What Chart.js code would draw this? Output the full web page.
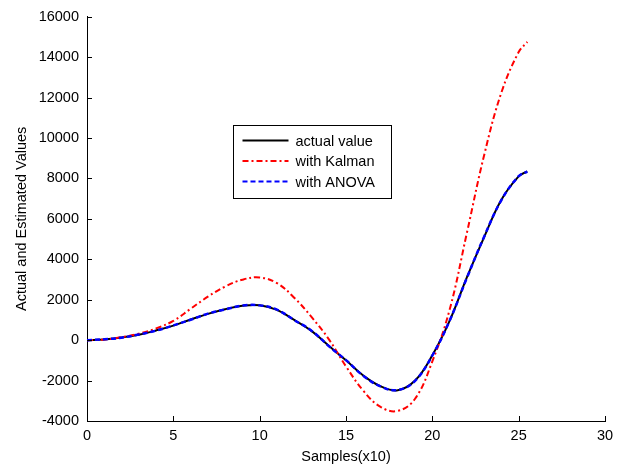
<!DOCTYPE html>
<html>
<head>
<meta charset="utf-8">
<script src="https://cdn.jsdelivr.net/npm/chart.js@4.4.0/dist/chart.umd.min.js"></script>
<style>
  html, body { margin: 0; padding: 0; background: #fff; }
  #wrap { position: relative; width: 623px; height: 468px; }
</style>
</head>
<body>
<div id="wrap"><canvas id="chart" width="623" height="468"></canvas></div>
<script>
// sample index (x10)
const samples = [0, 1, 2, 3, 4, 5, 6, 7, 8, 9, 10, 11, 12, 13, 14, 15, 16, 17, 18, 19, 20, 21, 22, 23, 24, 25, 25.5];
const actualValues = [0, 30, 130, 270, 480, 720, 1020, 1300, 1530, 1700, 1730, 1500, 1000, 460, -280, -1000, -1750, -2280, -2480, -2000, -750, 950, 3100, 5100, 6950, 8100, 8350];
const kalmanValues = [0, 30, 150, 320, 580, 950, 1550, 2150, 2650, 2990, 3100, 2820, 2100, 1150, 50, -1300, -2500, -3300, -3500, -2900, -1050, 1500, 5300, 9150, 12250, 14250, 14750];
const anovaValues = [0, 40, 120, 280, 470, 730, 1010, 1310, 1520, 1710, 1720, 1510, 990, 470, -290, -990, -1760, -2290, -2470, -2010, -760, 960, 3080, 5120, 6930, 8110, 8340];
const xTicks = [0, 5, 10, 15, 20, 25, 30];
const yTicks = [-4000, -2000, 0, 2000, 4000, 6000, 8000, 10000, 12000, 14000, 16000];
const seriesNames = ["actual value", "with Kalman", "with ANOVA"];

const font = "Liberation Sans, Arial, sans-serif";

function toPoints(vals) {
  return samples.map((s, i) => ({ x: s, y: vals[i] }));
}

// MATLAB-style inward ticks on left and bottom axes
const inwardTicks = {
  id: "inwardTicks",
  afterDraw(chart) {
    const { ctx, chartArea, scales } = chart;
    ctx.save();
    ctx.strokeStyle = "#000";
    ctx.lineWidth = 1;
    ctx.beginPath();
    xTicks.forEach(v => {
      const px = Math.round(scales.x.getPixelForValue(v)) + 0.5;
      ctx.moveTo(px, chartArea.bottom);
      ctx.lineTo(px, chartArea.bottom - 5);
    });
    yTicks.forEach(v => {
      const py = Math.round(scales.y.getPixelForValue(v)) + 0.5;
      ctx.moveTo(chartArea.left, py);
      ctx.lineTo(chartArea.left + 5, py);
    });
    ctx.stroke();
    ctx.restore();
  }
};

// boxed legend sitting inside the plot
const boxLegend = {
  id: "boxLegend",
  afterDraw(chart) {
    const ctx = chart.ctx;
    const bx = 233.5, by = 125.5, bw = 158, bh = 73;
    ctx.save();
    ctx.fillStyle = "#fff";
    ctx.fillRect(bx, by, bw, bh);
    ctx.strokeStyle = "#000";
    ctx.lineWidth = 1;
    ctx.setLineDash([]);
    ctx.strokeRect(bx, by, bw, bh);
    ctx.font = "14.5px " + font;
    ctx.textBaseline = "middle";
    chart.data.datasets.forEach((ds, i) => {
      const y = by + 15 + i * 20.5;
      ctx.strokeStyle = ds.borderColor;
      ctx.lineWidth = 2;
      ctx.setLineDash(ds.borderDash || []);
      ctx.beginPath();
      ctx.moveTo(bx + 9, y);
      ctx.lineTo(bx + 55, y);
      ctx.stroke();
      ctx.setLineDash([]);
      ctx.fillStyle = "#000";
      ctx.fillText(seriesNames[i], bx + 62, y + 1);
    });
    ctx.restore();
  }
};

new Chart(document.getElementById("chart"), {
  type: "line",
  data: {
    datasets: [
      {
        label: seriesNames[0],
        data: toPoints(actualValues),
        borderColor: "#000000",
        borderWidth: 2,
        pointRadius: 0,
        tension: 0.4,
        order: 3
      },
      {
        label: seriesNames[1],
        data: toPoints(kalmanValues),
        borderColor: "#ff0000",
        borderWidth: 2,
        borderDash: [6, 3, 2, 3],
        pointRadius: 0,
        tension: 0.4,
        order: 2
      },
      {
        label: seriesNames[2],
        data: toPoints(anovaValues),
        borderColor: "#0000ff",
        borderWidth: 2.5,
        borderDash: [5, 3],
        pointRadius: 0,
        tension: 0.4,
        order: 1
      }
    ]
  },
  options: {
    responsive: false,
    animation: false,
    devicePixelRatio: 1,
    layout: { padding: { top: 15, right: 18, left: 13, bottom: 0 } },
    plugins: {
      legend: { display: false },
      tooltip: { enabled: false }
    },
    scales: {
      x: {
        type: "linear",
        min: 0,
        max: 30,
        afterBuildTicks: s => { s.ticks = xTicks.map(v => ({ value: v })); },
        afterFit: s => { s.height = 47; },
        grid: { display: false, drawTicks: false },
        border: { display: true, color: "#000", width: 1 },
        ticks: { color: "#000", font: { family: font, size: 14.5 }, padding: 6, maxRotation: 0 },
        title: { display: true, text: "Samples(x10)", color: "#000", font: { family: font, size: 14.5 }, padding: { top: 0, bottom: 2 } }
      },
      y: {
        min: -4000,
        max: 16000,
        afterBuildTicks: s => { s.ticks = yTicks.map(v => ({ value: v })); },
        afterFit: s => { s.width = 74; },
        grid: { display: false, drawTicks: false },
        border: { display: true, color: "#000", width: 1 },
        ticks: { color: "#000", font: { family: font, size: 14.5 }, padding: 8, callback: v => String(v) },
        title: { display: true, text: "Actual and Estimated Values", color: "#000", font: { family: font, size: 14.5 }, padding: { top: 0, bottom: 0 } }
      }
    }
  },
  plugins: [inwardTicks, boxLegend]
});
</script>
</body>
</html>
